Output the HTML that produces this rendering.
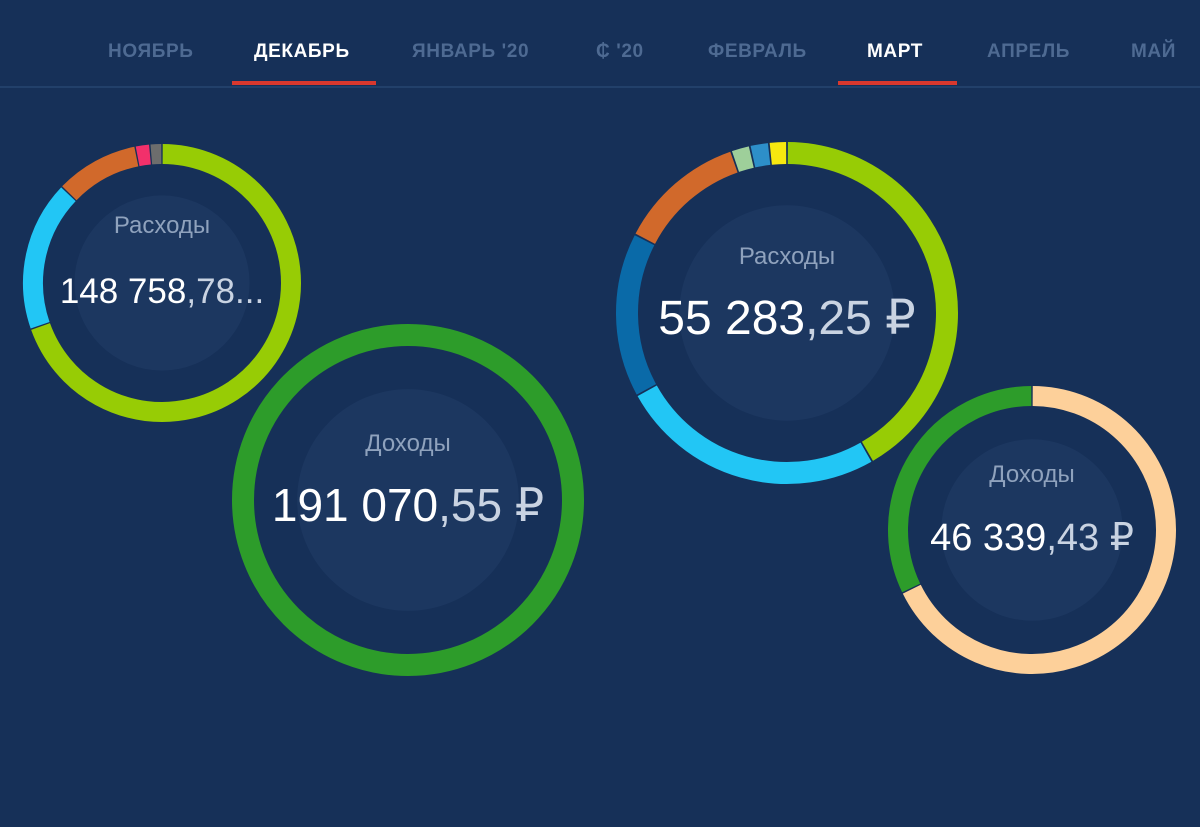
<!DOCTYPE html>
<html><head><meta charset="utf-8">
<style>
body{margin:0;width:1200px;height:827px;background:#163058;overflow:hidden;font-family:"Liberation Sans","DejaVu Sans",sans-serif;}
.nav{position:absolute;top:0;left:0;width:1200px;height:86px;border-bottom:2px solid #22406a;}
.tab{position:absolute;top:41px;font-size:19px;font-weight:bold;letter-spacing:0.6px;color:#4e6a92;white-space:nowrap;}
.tab.on{color:#fff;}
.ul{position:absolute;top:81px;height:4px;background:#d9382e;}
svg{position:absolute;left:0;top:0;}
</style></head><body>
<div class="nav">
<div class="tab" style="left:108px">НОЯБРЬ</div>
<div class="tab on" style="left:254px">ДЕКАБРЬ</div>
<div class="tab" style="left:412px">ЯНВАРЬ '20</div>
<div class="tab" style="left:596px">₵ '20</div>
<div class="tab" style="left:708px">ФЕВРАЛЬ</div>
<div class="tab on" style="left:867px">МАРТ</div>
<div class="tab" style="left:987px">АПРЕЛЬ</div>
<div class="tab" style="left:1131px">МАЙ</div>
<div class="ul" style="left:232px;width:144px"></div>
<div class="ul" style="left:838px;width:119px"></div>
</div>
<svg id="chart" width="1200" height="827"></svg>
<script>
const decExpenseValues=[69.4,17.5,9.7,1.7,1.4];
const decExpenseColors=["#97cc05","#22c6f5","#d1692b","#f2306b","#6d6d6d"];
const decIncomeValues=[100];
const decIncomeColors=["#2d9c2a"];
const marExpenseValues=[41.7,25.3,15.6,12.1,1.8,1.8,1.7];
const marExpenseColors=["#97cc05","#22c6f5","#0a6aa8","#d1692b","#9ecf9a","#2d8fc9","#f7e80f"];
const marIncomeValues=[67.8,32.2];
const marIncomeColors=["#fdd09a","#2d9c2a"];
const NS="http://www.w3.org/2000/svg";
const svg=document.getElementById('chart');
function mk(t,a){const e=document.createElementNS(NS,t);for(const k in a)e.setAttribute(k,a[k]);svg.appendChild(e);return e;}
function pt(cx,cy,r,deg){const a=deg*Math.PI/180;return [cx+r*Math.sin(a),cy-r*Math.cos(a)];}
function donut(name,cx,cy,R,w,vals,cols,label,intPart,dec,fs,lfs,labelDy,numDy){
  const inner=mk('circle',{cx:cx,cy:cy,r:R*0.63,fill:'#1c3760'});
  
  
  const tot=vals.reduce((a,b)=>a+b,0);
  const r=R-w/2;let start=0;
  vals.forEach((v,i)=>{
    const sweep=v/tot*360;
    let el;
    if(sweep>=359.9){el=mk('circle',{cx:cx,cy:cy,r:r,fill:'none',stroke:cols[i],'stroke-width':w});}
    else{
      const gap=vals.length>1?0.6:0;
      const p1=pt(cx,cy,r,start+gap/2),p2=pt(cx,cy,r,start+sweep-gap/2);
      el=mk('path',{d:`M${p1[0]} ${p1[1]} A${r} ${r} 0 ${sweep>180?1:0} 1 ${p2[0]} ${p2[1]}`,fill:'none',stroke:cols[i],'stroke-width':w});
    }
    
    
    start+=sweep;
  });
  const l=mk('text',{x:cx,y:cy+labelDy,'text-anchor':'middle','font-size':lfs,fill:'#8fa2bd'});
  l.textContent=label;
  
  
  const t=mk('text',{x:cx,y:cy+numDy,'text-anchor':'middle','font-size':fs,fill:'#ffffff'});
  
  
  const s1=document.createElementNS(NS,'tspan');s1.textContent=intPart;t.appendChild(s1);
  const s2=document.createElementNS(NS,'tspan');s2.setAttribute('fill','#c9d3e2');s2.textContent=dec;t.appendChild(s2);
}
donut('december-expenses',162,283,139,20,decExpenseValues,decExpenseColors,'Расходы','148 758',',78...',35,24,-50,20);
donut('december-income',408,500,176,22,decIncomeValues,decIncomeColors,'Доходы','191 070',',55 ₽',46,24,-49,21);
donut('march-expenses',787,313,171,22,marExpenseValues,marExpenseColors,'Расходы','55 283',',25 ₽',48,24,-49,21);
donut('march-income',1032,530,144,20,marIncomeValues,marIncomeColors,'Доходы','46 339',',43 ₽',38,24,-48,20);
</script>
</body></html>
